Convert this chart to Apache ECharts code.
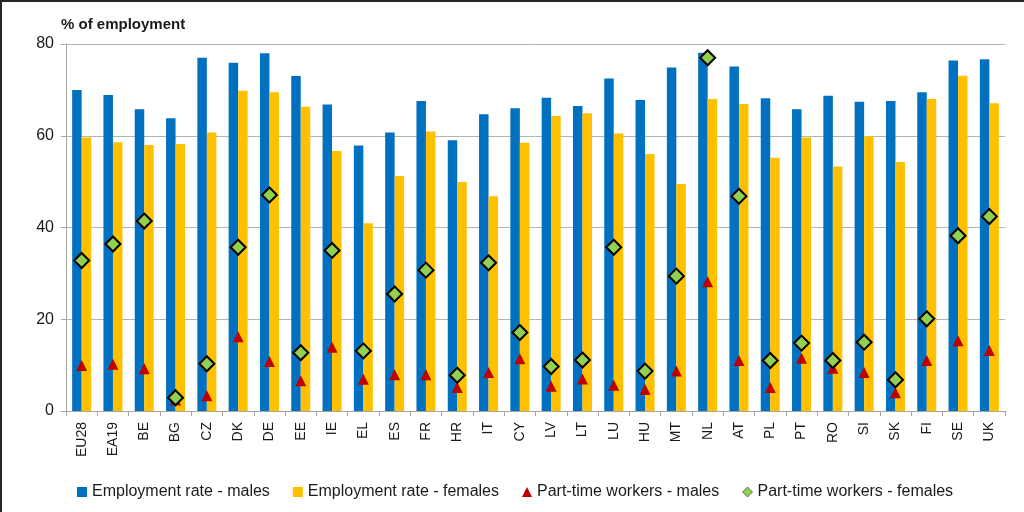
<!DOCTYPE html>
<html>
<head>
<meta charset="utf-8">
<script src="https://cdn.jsdelivr.net/npm/echarts@6/dist/echarts.min.js"></script>
<style>
html,body{margin:0;padding:0;background:#fff;}
#c{width:1024px;height:512px;box-sizing:border-box;border-top:2px solid #262626;border-left:2px solid #262626;}
</style>
</head>
<body>
<div id="c"></div>
<script>
const categories = ["EU28","EA19","BE","BG","CZ","DK","DE","EE","IE","EL","ES","FR","HR","IT","CY","LV","LT","LU","HU","MT","NL","AT","PL","PT","RO","SI","SK","FI","SE","UK"];
const empMales   = [70.0,68.9,65.8,63.8,77.0,75.9,78.0,73.0,66.8,57.9,60.7,67.6,59.0,64.7,66.0,68.3,66.5,72.5,67.8,74.9,78.1,75.1,68.2,65.8,68.7,67.4,67.6,69.5,76.4,76.7];
const empFemales = [59.6,58.6,58.0,58.2,60.7,69.8,69.5,66.3,56.7,40.9,51.2,60.9,49.9,46.8,58.5,64.3,64.9,60.5,56.0,49.5,68.0,66.9,55.2,59.6,53.3,59.9,54.3,68.0,73.1,67.1];
const ptMales    = [9.9,10.2,9.2,2.4,3.3,16.2,10.8,6.6,13.9,6.9,7.9,7.9,5.1,8.4,11.4,5.4,7.0,5.6,4.7,8.7,28.2,11.0,5.1,11.5,9.3,8.4,4.0,11.0,15.3,13.2];
const ptFemales  = [32.8,36.4,41.4,2.9,10.3,35.7,47.1,12.7,35.0,13.1,25.5,30.7,7.8,32.3,17.1,9.7,11.1,35.7,8.7,29.4,77.0,46.8,11.0,14.8,11.0,15.0,6.8,20.1,38.2,42.4];
const yTicks = [0,20,40,60,80];
const seriesNames = ["Employment rate - males","Employment rate - females","Part-time workers - males","Part-time workers - females"];

const FONT = '"Liberation Sans", Arial, sans-serif';
const chart = echarts.init(document.getElementById('c'), null, {renderer:'canvas'});
chart.setOption({
  animation:false,
  backgroundColor:'#fff',
  title:{text:'% of employment', left:54, top:10, textStyle:{fontFamily:FONT,fontSize:15,fontWeight:'bold',color:'#1a1a1a'}},
  grid:{left:64, right:19, top:42, bottom:101, containLabel:false},
  legend:{
    left:70, top:477, itemGap:23, itemWidth:10, itemHeight:10,
    textStyle:{fontFamily:FONT,fontSize:16,color:'#1a1a1a', padding:[0,0,0,0]},
    data:[
      {name:seriesNames[0], icon:'rect'},
      {name:seriesNames[1], icon:'rect'},
      {name:seriesNames[2], icon:'triangle', itemStyle:{borderWidth:0}},
      {name:seriesNames[3], icon:'diamond', itemStyle:{borderWidth:0.5}}
    ]
  },
  xAxis:{
    type:'category', data:categories,
    axisLine:{lineStyle:{color:'#a6a6a6',width:1}},
    axisTick:{show:true, alignWithLabel:false, length:5, lineStyle:{color:'#a6a6a6'}},
    axisLabel:{rotate:90, interval:0, margin:11, fontFamily:FONT, fontSize:14, color:'#1a1a1a'}
  },
  yAxis:{
    type:'value', min:yTicks[0], max:yTicks[yTicks.length-1], interval:20,
    axisLine:{show:true, lineStyle:{color:'#a6a6a6'}},
    axisTick:{show:true, length:5, lineStyle:{color:'#a6a6a6'}},
    axisLabel:{fontFamily:FONT, fontSize:16, color:'#1a1a1a', margin:12},
    splitLine:{lineStyle:{color:'#b3b3b3', width:1}}
  },
  series:[
    {name:seriesNames[0], type:'bar', data:empMales, barWidth:9.5, barGap:'0%', itemStyle:{color:'#0070C0'}},
    {name:seriesNames[1], type:'bar', data:empFemales, barWidth:9.5, barGap:'0%', itemStyle:{color:'#FFC000'}},
    {name:seriesNames[2], type:'scatter', data:ptMales, symbol:'triangle', symbolSize:[11,11], itemStyle:{color:'#C00000', opacity:1}, z:5},
    {name:seriesNames[3], type:'scatter', data:ptFemales, symbol:'diamond', symbolSize:[15,15], itemStyle:{color:'#92D050', borderColor:'#000', borderWidth:2, opacity:1}, z:6}
  ]
});
</script>
</body>
</html>
